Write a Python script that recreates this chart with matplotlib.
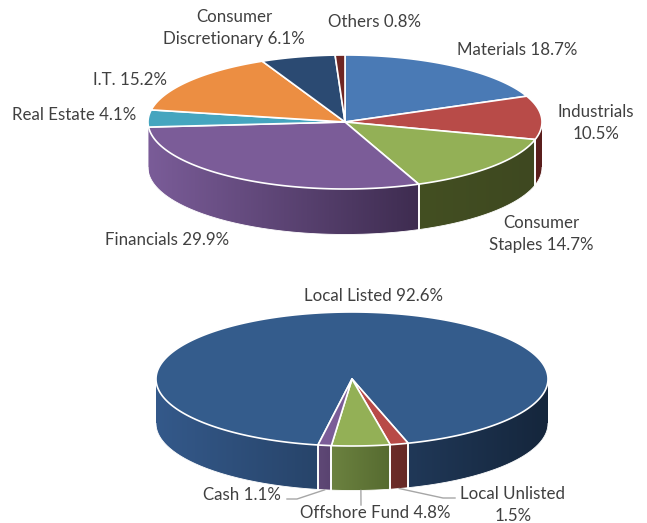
import numpy as np
import matplotlib
matplotlib.use('Agg')
import matplotlib.pyplot as plt
from matplotlib.colors import LinearSegmentedColormap
from matplotlib.patches import Polygon

plt.rcParams['font.family'] = ['Lato', 'DejaVu Sans']

# sector split
sector_names = ['Materials', 'Industrials', 'Consumer Staples', 'Financials', 'Real Estate',
                'I.T.', 'Consumer Discretionary', 'Others']
sector_values = [18.7, 10.5, 14.7, 29.9, 4.1, 15.2, 6.1, 0.8]
sector_top = ['#4a7ab5', '#b84b48', '#93b056', '#7b5c98', '#45a5bf', '#ec8e42', '#2b4a72', '#6f2623']
sector_side = [('#2f4f78', '#2f4f78'), ('#5c1f1d', '#5a1e1c'), ('#434f22', '#3e4820'),
               ('#7a5c98', '#3e2c50'), ('#7a5c98', '#7a5c98'), ('#b06a30', '#b06a30'),
               ('#1f3653', '#1f3653'), ('#4f1a18', '#4f1a18')]

# asset type split
asset_names = ['Local Listed', 'Local Unlisted', 'Offshore Fund', 'Cash']
asset_values = [92.6, 1.5, 4.8, 1.1]
asset_top = ['#345c8c', '#b84a47', '#93b056', '#7b5c98']
asset_side = [('#34598a', '#15263c'), ('#6d2c29', '#642826'), ('#6c8240', '#566b30'),
              ('#5f4876', '#594370')]

TEXT = '#404040'
FS = 12.2
SPACING = 1.45


def rim(cx, cy, rx, ry, deg):
    # degrees run clockwise from 12 o'clock
    t = np.radians(deg)
    return cx + rx * np.sin(t), cy - ry * np.cos(t)


def draw_pie(ax, values, tops, sides, start, cx, cy, rx, ry, depth):
    edges = start + np.cumsum([0] + list(values)) * 3.6

    # side wall first, only the front half (90-270 deg) shows
    for i in range(len(values)):
        parts = []
        for shift in (0, 360):
            a0 = max(edges[i] - shift, 90)
            a1 = min(edges[i + 1] - shift, 270)
            if a1 > a0:
                parts.append((a0, a1))
        if not parts:
            continue
        xs_all = np.concatenate([rim(cx, cy, rx, ry, np.array(p))[0] for p in parts])
        xmin, xmax = xs_all.min(), xs_all.max()
        cmap = LinearSegmentedColormap.from_list('wall', sides[i])
        for a0, a1 in parts:
            ang = np.linspace(a0, a1, max(int((a1 - a0) * 3), 2))
            x, y = rim(cx, cy, rx, ry, ang)
            outline = np.r_[np.column_stack([x, y]), np.column_stack([x[::-1], y[::-1] + depth])]
            wall = Polygon(outline, closed=True, facecolor=sides[i][0], edgecolor='none',
                           transform=ax.transData)
            im = ax.imshow(np.linspace(0, 1, 256)[None, :], cmap=cmap, aspect='auto',
                           extent=(xmin, xmax, cy + ry + depth + 5, cy - ry - 5),
                           interpolation='bilinear', zorder=2)
            im.set_clip_path(wall)
            # soft white line hides the jagged clip edge
            ax.plot(x, y + depth, color='white', lw=0.6, zorder=2.5)
            for a in (a0, a1):
                xe, ye = rim(cx, cy, rx, ry, a)
                if 90 < a < 270 and abs(xe - cx) < rx - 3:
                    ax.plot([xe, xe], [ye, ye + depth], color='white', lw=1.2, zorder=3)

    # top face
    for i in range(len(values)):
        ang = np.linspace(edges[i], edges[i + 1], max(int(values[i] * 4), 3))
        x, y = rim(cx, cy, rx, ry, ang)
        pts = np.column_stack([np.r_[cx, x], np.r_[cy, y]])
        ax.add_patch(Polygon(pts, closed=True, facecolor=tops[i], edgecolor='white',
                             linewidth=1.2, joinstyle='round', zorder=4))
    return edges


fig = plt.figure(figsize=(6.47, 5.23), dpi=100)
ax = fig.add_axes([0, 0, 1, 1])

draw_pie(ax, sector_values, sector_top, sector_side, 0, 345, 122, 197, 67, 45.5)
asset_edges = draw_pie(ax, asset_values, asset_top, asset_side, 190, 352, 379, 196, 67, 44.5)

ax.set_xlim(0, 647)
ax.set_ylim(523, 0)
ax.axis('off')

# sector labels
sector_labels = [
    (517, 50, 'Materials 18.7%'),
    (596, 123, 'Industrials\n10.5%'),
    (541, 234, 'Consumer\nStaples 14.7%'),
    (167, 240, 'Financials 29.9%'),
    (74, 115, 'Real Estate 4.1%'),
    (130, 80, 'I.T. 15.2%'),
    (234, 28, 'Consumer\nDiscretionary 6.1%'),
    (375, 22, 'Others 0.8%'),
]
for x, y, s in sector_labels:
    ax.text(x, y, s, ha='center', va='center', fontsize=FS, color=TEXT, linespacing=SPACING, zorder=6)

# asset labels
asset_labels = [
    (373, 296, 'Local Listed 92.6%'),
    (513, 505, 'Local Unlisted\n1.5%'),
    (375, 513, 'Offshore Fund 4.8%'),
    (242, 495, 'Cash 1.1%'),
]
for x, y, s in asset_labels:
    ax.text(x, y, s, ha='center', va='center', fontsize=FS, color=TEXT, linespacing=SPACING, zorder=6)

# leader lines from the middle of each small slice
leader_elbows = {1: [(443, 498), (455, 498)], 2: [(361, 505)], 3: [(297, 499), (287, 499)]}
for i, elbow in leader_elbows.items():
    mid = (asset_edges[i] + asset_edges[i + 1]) / 2
    x0, y0 = rim(352, 379, 196, 67, mid)
    xs = [x0] + [p[0] for p in elbow]
    ys = [y0 + 44.5] + [p[1] for p in elbow]
    ax.plot(xs, ys, color='#a6a6a6', lw=1.0, zorder=5)

plt.savefig('out.png', dpi=100)
